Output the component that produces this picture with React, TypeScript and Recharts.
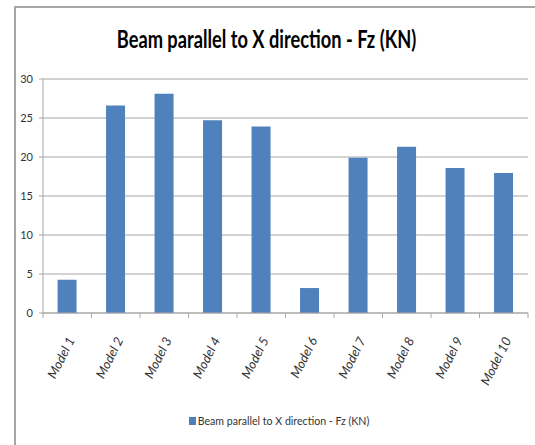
import React from "react";
import { BarChart, Bar, XAxis, YAxis, CartesianGrid, Legend } from "recharts";

const categories = ["Model 1", "Model 2", "Model 3", "Model 4", "Model 5", "Model 6", "Model 7", "Model 8", "Model 9", "Model 10"];
const fzValues = [4.25, 26.6, 28.1, 24.7, 23.9, 3.2, 19.9, 21.3, 18.6, 17.95];
const yTicks = [0, 5, 10, 15, 20, 25, 30];
const seriesName = "Beam parallel to X direction - Fz (KN)";
const titleText = "Beam parallel to X direction - Fz (KN)";

const data = categories.map((c, i) => ({ name: c, fz: fzValues[i] }));

const W = 535;
const H = 445;
const M = { top: 79, right: 7, bottom: 0, left: 0 };
const Y_W = 43;
const LEG_H = 14;
const X_H = 132 - LEG_H;
const STEP = (W - M.left - M.right - Y_W) / categories.length;
const GRID = "#a6a6a6";
const FONT = "Lato, 'Open Sans', sans-serif";
const TEXT = "#333333";

const XTick = (props: any) => {
  const { x, y, payload, index } = props;
  const last = index === categories.length - 1;
  const ax = x + 8;
  const ay = y + 27;
  return (
    <g>
      <line x1={x - STEP / 2} x2={x - STEP / 2} y1={y} y2={y + 5} stroke={GRID} strokeWidth={1} />
      {last && <line x1={x + STEP / 2} x2={x + STEP / 2} y1={y} y2={y + 5} stroke={GRID} strokeWidth={1} />}
      <text
        x={ax}
        y={ay}
        transform={`rotate(-63, ${ax}, ${ay})`}
        textAnchor="end"
        fontSize={13}
        fontStyle="italic"
        fill={TEXT}
        fontFamily={FONT}
      >
        {payload.value}
      </text>
    </g>
  );
};

const LegendContent = (props: any) => {
  const items = props.payload || [];
  return (
    <div
      style={{
        display: "flex",
        justifyContent: "center",
        fontFamily: FONT,
        fontSize: 10.6,
        lineHeight: `${LEG_H}px`,
        color: TEXT,
        height: LEG_H,
        paddingLeft: 23,
      }}
    >
      {items.map((it: any) => (
        <div key={it.value} style={{ display: "flex", alignItems: "center" }}>
          <span style={{ width: 7, height: 8, background: it.color, display: "inline-block", marginRight: 2 }} />
          <span>{it.value}</span>
        </div>
      ))}
    </div>
  );
};

export default function App() {
  return (
    <div style={{ position: "absolute", left: 0, top: 0, width: W, height: H, overflow: "hidden", background: "#fff" }}>
      <div
        style={{
          position: "absolute",
          left: 14,
          top: 6,
          width: W,
          height: H,
          borderTop: "2px solid #a6a6a6",
          borderLeft: "2px solid #a6a6a6",
        }}
      />
      <svg width={W} height={70} style={{ position: "absolute", left: 0, top: 0 }}>
        <text
          x={0}
          y={48.5}
          transform={`translate(266.5, 0) scale(0.73, 1)`}
          textAnchor="middle"
          fontFamily={FONT}
          fontWeight={700}
          fontSize={25}
          fill="#000"
        >
          {titleText}
        </text>
      </svg>
      <div style={{ position: "absolute", left: 0, top: 0 }}>
        <BarChart width={W} height={H} data={data} margin={M} barCategoryGap="30%">
          <CartesianGrid vertical={false} stroke={GRID} strokeWidth={1} />
          <XAxis
            dataKey="name"
            interval={0}
            tickLine={false}
            tickSize={0}
            tickMargin={0}
            axisLine={{ stroke: GRID }}
            tick={<XTick />}
            height={X_H}
          />
          <YAxis
            width={Y_W}
            domain={[0, 30]}
            ticks={yTicks}
            tickSize={4}
            tickMargin={6}
            tickLine={{ stroke: GRID }}
            axisLine={{ stroke: GRID }}
            tick={{ fontSize: 11, fill: TEXT, fontFamily: FONT }}
            interval={0}
          />
          <Legend
            verticalAlign="bottom"
            content={<LegendContent />}
            wrapperStyle={{ position: "absolute", top: 414, left: 0, width: W, height: LEG_H }}
          />
          <Bar dataKey="fz" name={seriesName} fill="#4f81bd" isAnimationActive={false} />
        </BarChart>
      </div>
    </div>
  );
}
